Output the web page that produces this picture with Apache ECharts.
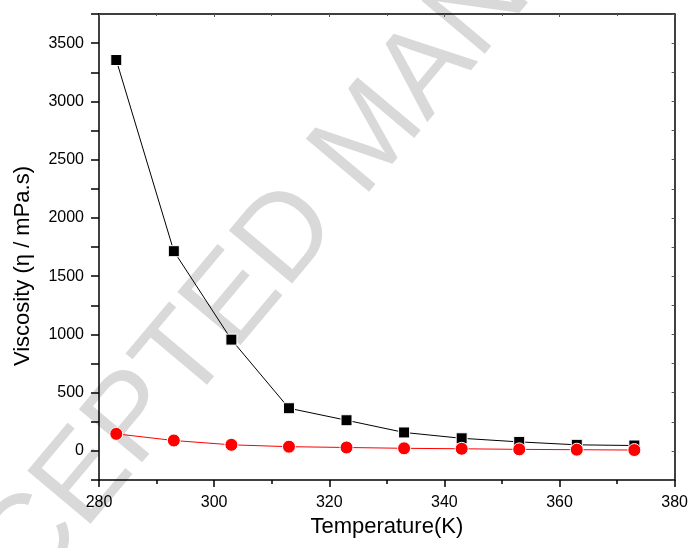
<!DOCTYPE html>
<html>
<head>
<meta charset="utf-8">
<script src="https://cdn.jsdelivr.net/npm/echarts@6/dist/echarts.min.js"></script>
<style>
html,body{margin:0;padding:0;background:#fff;}
#c{width:691px;height:548px;}
</style>
</head>
<body>
<div id="c"></div>
<script>
var temperatures = [283, 293, 303, 313, 323, 333, 343, 353, 363, 373];
var viscosityBlack = [3355, 1714, 955, 366, 263, 158, 108, 77, 52, 46];
var viscosityRed = [146, 89, 52, 36, 29, 22, 18, 13, 10, 7];
var xTicks = [280, 300, 320, 340, 360, 380];
var yTicks = [0, 500, 1000, 1500, 2000, 2500, 3000, 3500];

function pairs(xs, ys) { return xs.map(function (x, i) { return [x, ys[i]]; }); }

var FONT = "'Liberation Sans', Arial, sans-serif";
var chart = echarts.init(document.getElementById('c'), null, {renderer: 'canvas'});
var theta = 50 * Math.PI / 180;
chart.setOption({
  animation: false,
  backgroundColor: '#fff',
  graphic: [{
    type: 'text',
    z: 0,
    x: -104, y: 704,
    rotation: theta,
    style: {
      text: 'ACCEPTED MANUSCRIPT',
      font: '120px ' + FONT,
      fill: '#d9d9d9',
      align: 'left',
      verticalAlign: 'middle'
    }
  }, {
    type: 'text',
    z: 10,
    x: 23, y: 266,
    rotation: Math.PI / 2,
    style: {
      text: 'Viscosity (\u03B7 / mPa.s)',
      font: '22px ' + FONT,
      fill: '#000',
      align: 'center',
      verticalAlign: 'middle'
    }
  }],
  grid: {left: 99, right: 14, top: 14, bottom: 68, containLabel: false},
  xAxis: [{
    type: 'value', min: 280, max: 380, interval: 20,
    name: 'Temperature(K)', nameLocation: 'middle', nameGap: 35,
    nameTextStyle: {fontFamily: FONT, fontSize: 22, color: '#000'},
    axisLine: {show: true, onZero: false, lineStyle: {color: '#000', width: 1.5}},
    axisTick: {show: true, inside: false, length: 7, lineStyle: {color: '#000', width: 1.5}},
    minorTick: {show: true, splitNumber: 2, length: 4, lineStyle: {color: '#000', width: 1.5}},
    axisLabel: {margin: 15, fontFamily: FONT, fontSize: 16, color: '#000',
      formatter: function (v) { return xTicks.indexOf(v) >= 0 ? String(v) : ''; }},
    splitLine: {show: false}
  }, {
    type: 'value', position: 'top', min: 280, max: 380, interval: 20,
    axisLine: {show: true, onZero: false, lineStyle: {color: '#000', width: 1.5}},
    axisTick: {show: true, inside: true, length: 3, lineStyle: {color: '#555', width: 1}},
    minorTick: {show: true, splitNumber: 2, length: 2, lineStyle: {color: '#555', width: 1}},
    axisLabel: {show: false}, splitLine: {show: false}
  }],
  yAxis: [{
    type: 'value', min: -250, max: 3750, interval: 250,
    axisLine: {show: true, onZero: false, lineStyle: {color: '#000', width: 1.5}},
    axisTick: {show: true, inside: false, length: 8, lineStyle: {color: '#000', width: 1.5}},
    axisLabel: {margin: 15, fontFamily: FONT, fontSize: 16, color: '#000',
      formatter: function (v) { return yTicks.indexOf(v) >= 0 ? String(v) : ''; }},
    splitLine: {show: false}
  }, {
    type: 'value', position: 'right', min: -250, max: 3750, interval: 250,
    axisLine: {show: true, onZero: false, lineStyle: {color: '#000', width: 1.5}},
    axisTick: {show: true, inside: true, length: 3, lineStyle: {color: '#555', width: 1}},
    axisLabel: {show: false}, splitLine: {show: false}
  }],
  series: [{
    type: 'line', z: 3,
    data: pairs(temperatures, viscosityBlack),
    symbol: 'rect', symbolSize: 11,
    lineStyle: {color: '#000', width: 1},
    itemStyle: {color: '#000', borderColor: '#fff', borderWidth: 1}
  }, {
    type: 'line', z: 4,
    data: pairs(temperatures, viscosityRed),
    symbol: 'circle', symbolSize: 13,
    lineStyle: {color: '#ff0000', width: 1},
    itemStyle: {color: '#ff0000', borderColor: '#fff', borderWidth: 1}
  }]
});
</script>
</body>
</html>
